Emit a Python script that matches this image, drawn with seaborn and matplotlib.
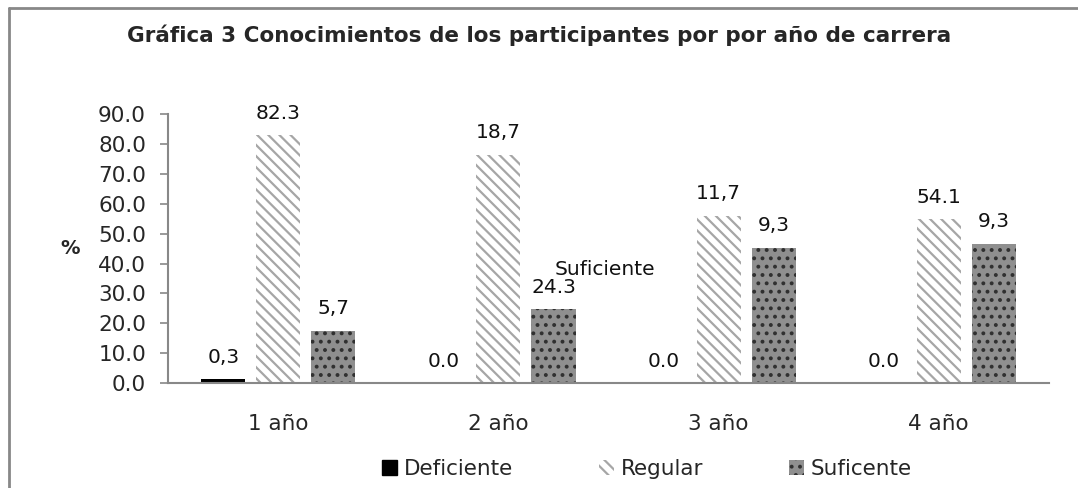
import matplotlib
matplotlib.use("Agg")
import matplotlib.pyplot as plt
import matplotlib.patches as mpatches
from matplotlib.lines import Line2D
import seaborn as sns
import pandas as pd

# ---- data ----
categories = ["1 año", "2 año", "3 año", "4 año"]
series = ["Deficiente", "Regular", "Suficente"]
deficiente = [1.3, 0.0, 0.0, 0.0]
regular = [83.0, 76.5, 56.0, 54.8]
suficente = [17.5, 24.7, 45.3, 46.7]
lbl_deficiente = ["0,3", "0.0", "0.0", "0.0"]
lbl_regular = ["82.3", "18,7", "11,7", "54.1"]
lbl_suficente = ["5,7", "24.3", "9,3", "9,3"]
yticks = [0, 10, 20, 30, 40, 50, 60, 70, 80, 90]
title = "Gráfica 3 Conocimientos de los participantes por por año de carrera"

rows = []
for s, vals in zip(series, [deficiente, regular, suficente]):
    for c, v in zip(categories, vals):
        rows.append({"año": c, "valor": v, "nivel": s})
df = pd.DataFrame(rows)

sns.set_style("white")
plt.rcParams["font.family"] = ["DejaVu Sans"]
plt.rcParams["hatch.linewidth"] = 1.6

fig = plt.figure(figsize=(10.78, 4.88), dpi=100)
ax = fig.add_axes([0.156, 0.215, 0.817, 0.551])

sns.barplot(data=df, x="año", y="valor", hue="nivel", order=categories,
            hue_order=series, palette=["#000000", "#ffffff", "#8c8c8c"],
            width=0.75, gap=0.2, legend=False, ax=ax, saturation=1)

styles = [
    dict(facecolor="#000000", hatch=None, edge="#000000"),
    dict(facecolor="#ffffff", hatch="\\\\\\", edge="#a6a6a6"),
    dict(facecolor="#8f8f8f", hatch="..", edge="#303030"),
]
labels_all = [lbl_deficiente, lbl_regular, lbl_suficente]
for cont, st, labs in zip(ax.containers, styles, labels_all):
    for p in cont.patches:
        p.set_facecolor(st["facecolor"])
        p.set_edgecolor(st["edge"])
        p.set_linewidth(0)
        if st["hatch"]:
            p.set_hatch(st["hatch"])
    ax.bar_label(cont, labels=labs, padding=9, fontsize=14.5, color="#111111")

# extra label above 2 año Suficente bar
p2 = ax.containers[2].patches[1]
ax.annotate("Suficiente", xy=(p2.get_x(), p2.get_height()), xytext=(17, 22),
            textcoords="offset points", ha="left", va="bottom", fontsize=14.5,
            color="#111111")

ax.set_ylim(0, 90)
ax.set_yticks(yticks)
ax.set_yticklabels([f"{t:.1f}" for t in yticks], fontsize=15.5)
ax.set_xlim(-0.5, 3.5)
ax.set_xlabel("")
ax.set_ylabel("%", rotation=0, fontsize=14, fontweight="bold", labelpad=20,
              va="center")
ax.tick_params(axis="y", direction="out", length=6, color="#888888", width=1.2,
               left=True, pad=10)
ax.tick_params(axis="x", length=0, pad=22, labelsize=15.5)
for side in ["top", "right"]:
    ax.spines[side].set_visible(False)
for side in ["left", "bottom"]:
    ax.spines[side].set_color("#888888")
    ax.spines[side].set_linewidth(1.5)

fig.suptitle(title, x=0.5, y=0.95, fontsize=15.5, fontweight="bold")

handles = [
    mpatches.Patch(facecolor="#000000", edgecolor="#000000", label="Deficiente"),
    mpatches.Patch(facecolor="#ffffff", edgecolor="#a6a6a6", hatch="\\\\\\", linewidth=0, label="Regular"),
    mpatches.Patch(facecolor="#8f8f8f", edgecolor="#303030", hatch="..", linewidth=0, label="Suficente"),
]
fig.legend(handles=handles, loc="center", bbox_to_anchor=(0.6, 0.038), ncol=3,
           frameon=False, fontsize=15.5, handlelength=0.7, handleheight=0.7,
           handletextpad=0.3, columnspacing=4.0)

# outer frame (top and left edges)
fig.add_artist(Line2D([0.008, 1.0], [0.983, 0.983], transform=fig.transFigure,
                      color="#888888", linewidth=2))
fig.add_artist(Line2D([0.008, 0.008], [0.0, 0.983], transform=fig.transFigure,
                      color="#888888", linewidth=2))

fig.savefig("out.png", dpi=100)
